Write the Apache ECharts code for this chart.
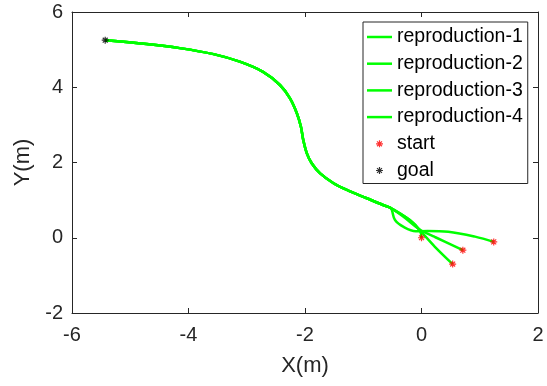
<!DOCTYPE html>
<html>
<head>
<meta charset="utf-8">
<script src="https://cdn.jsdelivr.net/npm/echarts@6/dist/echarts.min.js"></script>
<style>
html,body{margin:0;padding:0;background:#fff;}
#c{width:547px;height:386px;}
</style>
</head>
<body>
<div id="c"></div>
<script>
// Shared trunk from the split point to the goal
var trunkX = [-0.54, -0.66, -0.94, -1.28, -1.51, -1.74, -1.885, -1.97, -2.03, -2.07, -2.14, -2.26, -2.43, -2.72, -3.12, -3.57, -4.15, -4.72, -5.43];
var trunkY = [0.80, 0.87, 1.05, 1.27, 1.45, 1.71, 1.98, 2.25, 2.60, 2.95, 3.31, 3.71, 4.06, 4.41, 4.68, 4.88, 5.04, 5.15, 5.25];

// Heads of each reproduction, from start to the split point
var rep1X = [0.00, -0.03, -0.20];
var rep1Y = [0.00, 0.20, 0.47];
var rep2X = [0.71, 0.23, -0.03, -0.31];
var rep2Y = [-0.33, 0.02, 0.22, 0.56];
var rep3X = [1.24, 0.92, 0.46, 0.10, -0.10, -0.30, -0.455, -0.51];
var rep3Y = [-0.11, 0.03, 0.16, 0.18, 0.17, 0.28, 0.47, 0.74];
var rep4X = [0.535, 0.23, -0.03, -0.20];
var rep4Y = [-0.70, -0.24, 0.20, 0.47];

var startX = [0.00, 0.71, 1.24, 0.535];
var startY = [0.00, -0.33, -0.11, -0.70];
var goalX = [-5.43];
var goalY = [5.25];

var seriesNames = ['reproduction-1', 'reproduction-2', 'reproduction-3', 'reproduction-4'];
var xTicks = [-6, -4, -2, 0, 2];
var yTicks = [-2, 0, 2, 4, 6];

function zip(xs, ys) { return xs.map(function (x, i) { return [x, ys[i]]; }); }
function full(hx, hy) { return zip(hx, hy).concat(zip(trunkX, trunkY)); }

var heads = [[rep1X, rep1Y], [rep2X, rep2Y], [rep3X, rep3Y], [rep4X, rep4Y]];
var star = 'path://M0,-1L0,1M-1,0L1,0M-0.7,-0.7L0.7,0.7M-0.7,0.7L0.7,-0.7';
var lineIcon = 'path://M0,0L25,0L25,2.5L0,2.5Z';
var axisCol = '#262626';
var font = 'Liberation Sans, Arial, sans-serif';

var series = heads.map(function (h, i) {
  return {
    name: seriesNames[i], type: 'line', data: full(h[0], h[1]),
    symbol: 'none', smooth: 0.35, lineStyle: { color: '#00ff00', width: 2.5 },
    itemStyle: { color: '#00ff00' }, z: 2
  };
});
var starStyleRed = { color: 'rgba(0,0,0,0)', borderColor: '#ff0000', borderWidth: 1.2 };
var starStyleBlack = { color: 'rgba(0,0,0,0)', borderColor: '#000000', borderWidth: 1.2 };
series.push({
  name: 'start', type: 'scatter', data: zip(startX, startY), symbol: star, symbolSize: 7,
  itemStyle: starStyleRed, z: 5
});
series.push({
  name: 'goal', type: 'scatter', data: zip(goalX, goalY), symbol: star, symbolSize: 7,
  itemStyle: starStyleBlack, z: 5
});

var legendData = seriesNames.map(function (n) {
  return { name: n, icon: lineIcon, itemStyle: { color: '#00ff00', borderWidth: 0 } };
});
legendData.push({ name: 'start', icon: star, itemStyle: starStyleRed });
legendData.push({ name: 'goal', icon: star, itemStyle: starStyleBlack });

function mkX(pos, show) {
  return {
    type: 'value', position: pos, min: xTicks[0], max: xTicks[xTicks.length - 1], interval: 2,
    name: show ? 'X(m)' : '', nameLocation: 'middle', nameGap: 42,
    nameTextStyle: { color: axisCol, fontSize: 22, fontFamily: font },
    axisLine: { show: true, onZero: false, lineStyle: { color: axisCol, width: 1 } },
    axisTick: { show: true, inside: true, length: 5, lineStyle: { color: axisCol } },
    axisLabel: { show: show, color: axisCol, fontSize: 20, fontFamily: font, margin: 12 },
    splitLine: { show: false }
  };
}
function mkY(pos, show) {
  return {
    type: 'value', position: pos, min: yTicks[0], max: yTicks[yTicks.length - 1], interval: 2,
    name: show ? 'Y(m)' : '', nameLocation: 'middle', nameGap: 33,
    nameTextStyle: { color: axisCol, fontSize: 22, fontFamily: font },
    axisLine: { show: true, onZero: false, lineStyle: { color: axisCol, width: 1 } },
    axisTick: { show: true, inside: true, length: 5, lineStyle: { color: axisCol } },
    axisLabel: { show: show, color: axisCol, fontSize: 20, fontFamily: font, margin: 9 },
    splitLine: { show: false }
  };
}

var chart = echarts.init(document.getElementById('c'));
chart.setOption({
  animation: false,
  backgroundColor: '#ffffff',
  grid: { left: 72, right: 9, top: 12, bottom: 73, containLabel: false },
  xAxis: [mkX('bottom', true), mkX('top', false)],
  yAxis: [mkY('left', true), mkY('right', false)],
  legend: {
    orient: 'vertical', left: 363, top: 22,
    data: legendData,
    itemWidth: 25, itemHeight: 7, itemGap: 6.7, itemTextGap: 3, symbolKeepAspect: true,
    padding: [5, 5, 3, 4],
    borderColor: axisCol, borderWidth: 1, backgroundColor: '#ffffff',
    textStyle: { color: '#000000', fontSize: 19.5, fontFamily: font, lineHeight: 20 }
  },
  series: series
});
</script>
</body>
</html>
